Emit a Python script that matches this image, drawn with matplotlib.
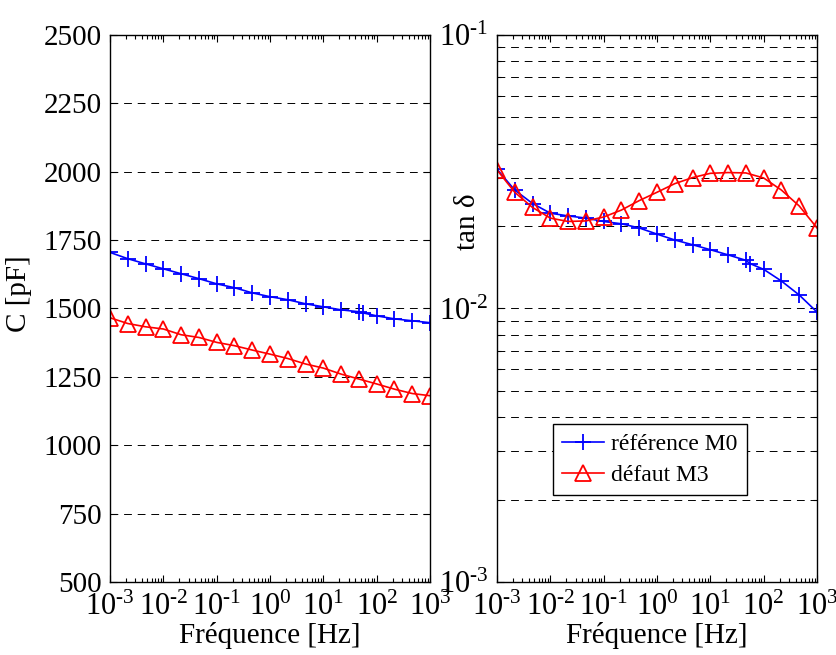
import matplotlib
matplotlib.use("Agg")
import matplotlib.pyplot as plt
from matplotlib.ticker import (LogLocator, NullFormatter, MultipleLocator,
                               FuncFormatter)
import numpy as np

plt.rcParams['font.family'] = ['Liberation Serif', 'DejaVu Serif']
plt.rcParams['mathtext.fontset'] = 'custom'
plt.rcParams['mathtext.rm'] = 'Liberation Serif'
plt.rcParams['mathtext.it'] = 'Liberation Serif:italic'

# frequencies [Hz]
freq = [0.001, 0.00215, 0.00464, 0.01, 0.0215, 0.0464, 0.1, 0.215, 0.464,
        1.0, 2.15, 4.64, 10.0, 21.5, 46.4, 100.0, 215.0, 464.0, 1000.0]
freq_ref = [0.001, 0.00215, 0.00464, 0.01, 0.0215, 0.0464, 0.1, 0.215, 0.464,
            1.0, 2.15, 4.64, 10.0, 21.5, 46.4, 55.0, 100.0, 215.0, 464.0, 1000.0]

# capacitance [pF]
cap_ref = [1705, 1682, 1663, 1645, 1627, 1609, 1590, 1576, 1557, 1543,
           1532, 1517, 1506, 1495, 1488, 1484, 1473, 1462, 1455, 1448]
cap_def = [1466, 1445, 1433, 1425, 1404, 1394, 1376, 1364, 1348, 1333,
           1317, 1297, 1282, 1260, 1242, 1224, 1205, 1189, 1181]

# loss factor tan delta
tan_ref = [0.0323, 0.0271, 0.0242, 0.0223, 0.0218, 0.0214, 0.0208, 0.0204,
           0.0197, 0.0187, 0.0178, 0.0171, 0.0164, 0.0157, 0.0150, 0.0146,
           0.0139, 0.0126, 0.0112, 0.0097]
tan_def = [0.0321, 0.0266, 0.0234, 0.0214, 0.0208, 0.0209, 0.0216, 0.0229,
           0.0248, 0.0266, 0.0286, 0.0301, 0.0312, 0.0314, 0.0313, 0.0300,
           0.0271, 0.0237, 0.0197]

fs = 21
blue_style = dict(color='#0000ff', lw=1.2, marker='+', ms=11, mew=1.3)
red_style = dict(color='#ff0000', lw=1.2, marker='^', ms=12, mew=1.3,
                 mfc='none')
grid_style = dict(color='black', lw=0.7, linestyle=(0, (8, 6)))


def pow10(v, pos):
    # matlab style: "10" with a small hyphen exponent
    e = int(round(np.log10(v)))
    return r'$\mathregular{10^{\text{%d}}}$' % e


fig = plt.figure(figsize=(8.36, 6.55), dpi=100)
ax1 = fig.add_axes([0.1316, 0.1115, 0.3828, 0.8351])
ax2 = fig.add_axes([0.5945, 0.1115, 0.3828, 0.8351])

ax1.semilogx(freq_ref, cap_ref, label='référence M0', **blue_style)
ax1.semilogx(freq, cap_def, label='défaut M3', **red_style)
ax1.set_ylim(500, 2500)
ax1.yaxis.set_major_locator(MultipleLocator(250))
ax1.grid(True, axis='y', which='major', **grid_style)
ax1.set_ylabel('C [pF]', fontsize=fs)
ax1.yaxis.set_label_coords(-0.244, 0.527)
ax1.tick_params(axis='y', labelsize=fs, pad=6)

ax2.loglog(freq_ref, tan_ref, label='référence M0', **blue_style)
ax2.loglog(freq, tan_def, label='défaut M3', **red_style)
ax2.set_ylim(1e-3, 1e-1)
ax2.yaxis.set_major_formatter(FuncFormatter(pow10))
ax2.yaxis.set_minor_locator(LogLocator(base=10, subs=range(2, 10)))
ax2.yaxis.set_minor_formatter(NullFormatter())
ax2.grid(True, axis='y', which='both', **grid_style)
ax2.set_ylabel('tan δ', fontsize=fs)
ax2.yaxis.set_label_coords(-0.05, 0.658)
ax2.tick_params(axis='y', labelsize=22, pad=6)

leg = ax2.legend(loc='upper left', bbox_to_anchor=(0.175, 0.289),
                 borderaxespad=0, fontsize=17, fancybox=False,
                 edgecolor='black', framealpha=1, handlelength=1.75,
                 borderpad=0.4, labelspacing=0.4, handletextpad=0.3)
leg.get_frame().set_linewidth(1.0)

for ax in (ax1, ax2):
    ax.set_xlim(1e-3, 1e3)
    ax.xaxis.set_major_locator(LogLocator(base=10, numticks=10))
    ax.xaxis.set_major_formatter(FuncFormatter(pow10))
    ax.xaxis.set_minor_locator(LogLocator(base=10, subs=range(2, 10), numticks=20))
    ax.xaxis.set_minor_formatter(NullFormatter())
    ax.set_xlabel('Fréquence [Hz]', fontsize=fs, labelpad=0)
    ax.tick_params(axis='x', labelsize=22, pad=8)
    ax.tick_params(which='both', direction='in', top=True, right=True,
                   width=0.8)
    ax.tick_params(which='major', length=5)
    ax.tick_params(which='minor', length=3)
    ax.set_axisbelow(True)
    for s in ax.spines.values():
        s.set_linewidth(1.0)

fig.savefig('out.png', dpi=100)
